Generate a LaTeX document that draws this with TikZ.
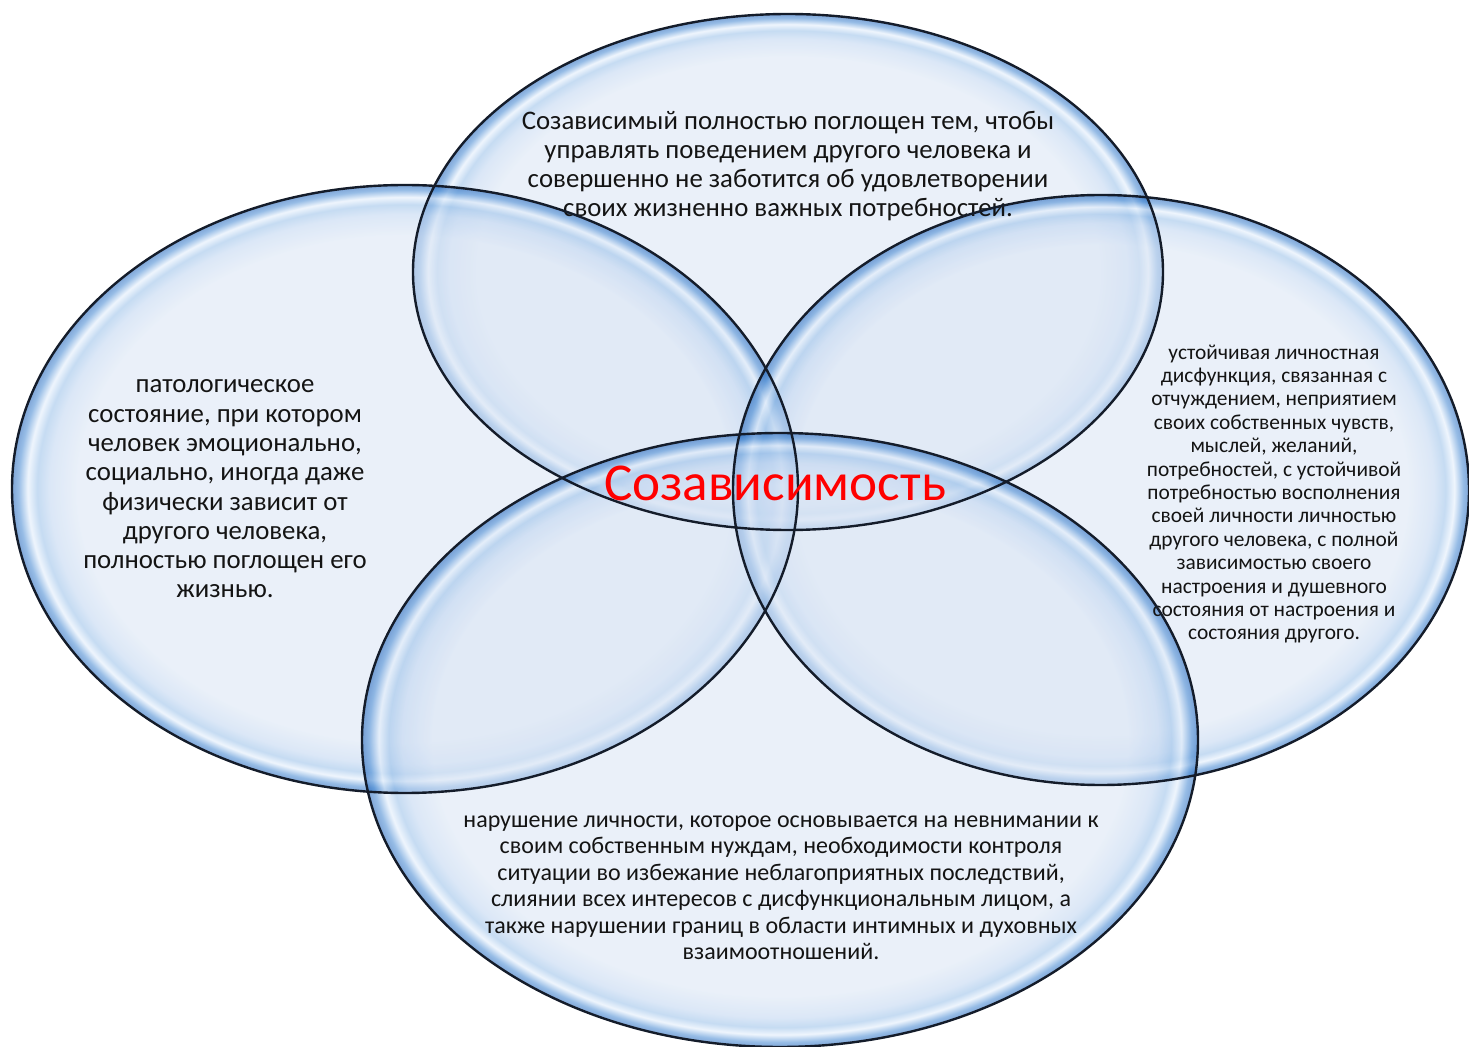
\documentclass[tikz,border=0pt]{standalone}
\usepackage{fontspec}
\setmainfont{Carlito}
\usetikzlibrary{shapes.geometric}

% bubble colours: pale body, glossy blue rim
\definecolor{bubA}{RGB}{217,228,244}
\definecolor{bubM}{RGB}{190,212,240}
\definecolor{bubL}{RGB}{150,190,232}
\definecolor{bubW}{RGB}{225,237,251}
\definecolor{bubB}{RGB}{64,133,209}
\definecolor{bubD}{RGB}{22,92,182}
\definecolor{bubline}{RGB}{20,28,42}
\definecolor{txt}{RGB}{20,20,20}

\pgfdeclareradialshading{bubble}{\pgfpoint{0bp}{0bp}}{%
  color(0bp)=(bubA); color(20.8bp)=(bubA); color(22.6bp)=(bubM);
  color(23.4bp)=(bubL); color(24.0bp)=(bubW); color(24.6bp)=(bubB);
  color(25bp)=(bubD); color(50bp)=(bubD)}

\tikzset{
  bubblenode/.style={ellipse, inner sep=0pt, shading=bubble, fill opacity=0.55},
  rim/.style={draw=bubline, line width=1.2pt},
  bigtext/.style={align=center, text=txt, font=\fontsize{13.4}{14.65}\selectfont},
  smalltext/.style={align=center, text=txt, font=\fontsize{10.7}{11.7}\selectfont},
  midtext/.style={align=center, text=txt, font=\fontsize{12}{13.25}\selectfont},
  titletext/.style={text=red, font=\fontsize{26.6}{30}\selectfont}
}

\begin{document}
\begin{tikzpicture}[x=0.5pt, y=0.5pt]
\useasboundingbox (0,0) rectangle (1469,1046);

% translucent bubbles
\node[bubblenode, minimum width=375pt, minimum height=258pt] (topb) at (788,774) {};
\node[bubblenode, minimum width=393pt, minimum height=304pt] (leftb) at (405,557) {};
\node[bubblenode, minimum width=368pt, minimum height=295pt] (rightb) at (1101,556) {};
\node[bubblenode, minimum width=418pt, minimum height=307pt] (bottomb) at (780,306) {};

% texts of the four bubbles
\node[bigtext] (toptext) at (788,880) {Созависимый полностью поглощен тем, чтобы\\
управлять поведением другого человека и\\
совершенно не заботится об удовлетворении\\
своих жизненно важных потребностей.};

\node[bigtext] (lefttext) at (225,557) {патологическое\\
состояние, при котором\\
человек эмоционально,\\
социально, иногда даже\\
физически зависит от\\
другого человека,\\
полностью поглощен его\\
жизнью.};

\node[smalltext] (righttext) at (1274,552) {устойчивая личностная\\
дисфункция, связанная с\\
отчуждением, неприятием\\
своих собственных чувств,\\
мыслей, желаний,\\
потребностей, с устойчивой\\
потребностью восполнения\\
своей личности личностью\\
другого человека, с полной\\
зависимостью своего\\
настроения и душевного\\
состояния от настроения и\\
состояния другого.};

\node[midtext] (bottomtext) at (781,158) {нарушение личности, которое основывается на невнимании к\\
своим собственным нуждам, необходимости контроля\\
ситуации во избежание неблагоприятных последствий,\\
слиянии всех интересов с дисфункциональным лицом, а\\
также нарушении границ в области интимных и духовных\\
взаимоотношений.};

% dark outlines of the bubbles
\draw[rim] (topb.center) ellipse [x radius=187.5pt, y radius=129pt];
\draw[rim] (leftb.center) ellipse [x radius=196.5pt, y radius=152pt];
\draw[rim] (rightb.center) ellipse [x radius=184pt, y radius=147.5pt];
\draw[rim] (bottomb.center) ellipse [x radius=209pt, y radius=153.5pt];

% central title
\node[titletext] (title) at (775,563) {Созависимость};
\end{tikzpicture}
\end{document}
